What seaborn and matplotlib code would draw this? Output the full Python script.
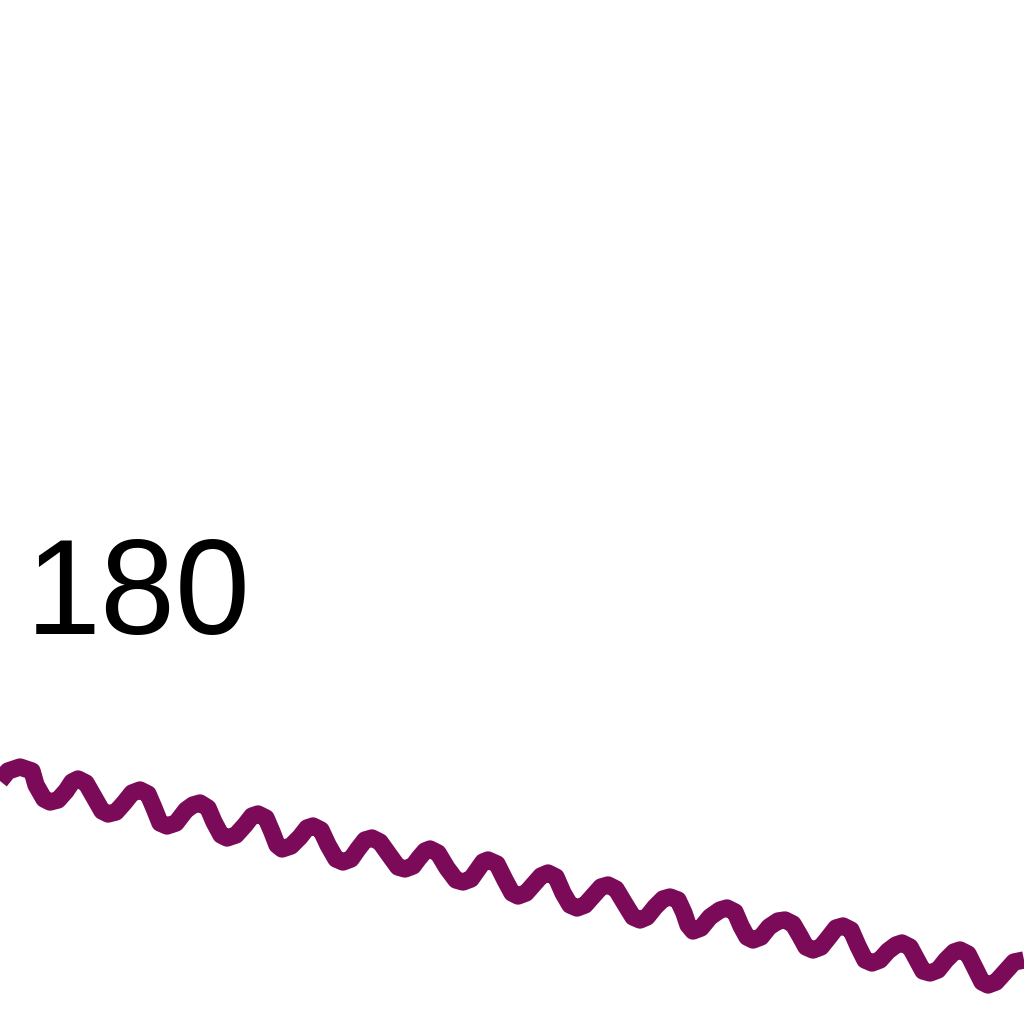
import matplotlib
matplotlib.use("Agg")
import matplotlib.pyplot as plt
import seaborn as sns
import pandas as pd

# Wave line (x position, value); peaks and troughs with shoulder points
x_vals = [0, 8, 20, 32, 36, 44, 50, 58, 66, 72, 78, 86, 94, 102, 108, 116, 124, 132, 140, 148, 154, 160, 167, 176,
          186, 193, 200, 208, 214, 221, 227, 236, 245, 252, 258, 266, 272, 277, 282, 291, 300, 307, 313, 321, 328,
          336, 343, 351, 358, 365, 372, 380, 390, 398, 405, 413, 419, 425, 430, 438, 447, 456, 463, 471, 478, 483,
          488, 497, 505, 512, 518, 526, 534, 541, 548, 556, 563, 570, 577, 585, 593, 601, 608, 616, 625, 633, 640,
          647, 655, 663, 670, 678, 684, 688, 693, 701, 710, 720, 727, 735, 741, 747, 753, 761, 769, 778, 785, 793,
          800, 806, 813, 821, 829, 836, 843, 851, 858, 865, 872, 880, 888, 896, 902, 910, 917, 923, 930, 938, 946,
          954, 960, 968, 975, 982, 988, 996, 1005, 1014, 1024]
y_vals = [781, 771, 767, 771, 785, 799, 802, 800, 791, 782, 779, 783, 797, 811, 814, 812, 803, 793, 790, 794, 808,
          823, 826, 823, 810, 805, 803, 808, 822, 835, 838, 835, 825, 816, 814, 818, 832, 845, 849, 846, 837, 828,
          826, 830, 845, 859, 862, 859, 849, 840, 838, 842, 856, 867, 869, 866, 858, 851, 849, 853, 868, 880, 882,
          879, 869, 862, 860, 864, 880, 893, 896, 893, 884, 876, 873, 877, 893, 905, 908, 905, 896, 887, 885, 889,
          904, 917, 920, 917, 907, 899, 897, 900, 913, 925, 931, 928, 917, 910, 908, 912, 926, 937, 940, 937, 927,
          921, 920, 924, 936, 947, 950, 947, 937, 928, 926, 930, 946, 960, 963, 960, 951, 945, 943, 947, 960, 971,
          973, 970, 960, 952, 950, 954, 968, 982, 985, 982, 972, 962, 960]

label_text = "180"

line_color = "#7b0a58"

sns.set_theme(style="white")
plt.rcParams['font.family'] = ['Liberation Sans', 'DejaVu Sans']

df = pd.DataFrame({"x": x_vals, "y": y_vals})

fig = plt.figure(figsize=(10.24, 10.24), dpi=100)
ax = fig.add_axes([0, 0, 1, 1])
sns.lineplot(data=df, x="x", y="y", ax=ax, color=line_color, linewidth=12.5,
             solid_joinstyle="round", solid_capstyle="butt", sort=False)
ax.set_xlim(0, 1024)
ax.set_ylim(1024, 0)
ax.axis("off")

ax.text(26, 634, label_text, fontsize=97, color="black", ha="left", va="baseline")

fig.savefig("out.png", dpi=100, facecolor="white")
